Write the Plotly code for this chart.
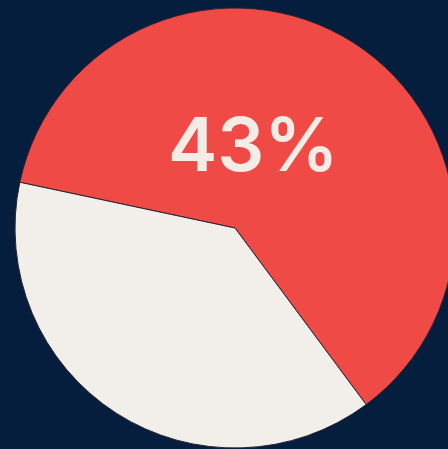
import plotly.graph_objects as go

labels = ["Red share", "Other"]
values = [61.5, 38.5]
colors = ["#EF4A45", "#F2EEEA"]
label_text = "43%"

W, H = 460, 449
bg = "#051E3E"

fig = go.Figure(go.Pie(
    labels=labels,
    values=values,
    sort=False,
    direction="clockwise",
    rotation=282,
    marker=dict(colors=colors, line=dict(color="#2a2230", width=1)),
    textinfo="none",
    hoverinfo="label+percent",
    showlegend=False,
    domain=dict(x=[15 / W, 455 / W], y=[1 / H, 441 / H]),
))

fig.add_annotation(
    text=label_text,
    x=253 / W, y=1 - 144 / H, xref="paper", yref="paper",
    showarrow=False,
    font=dict(family="Inter", size=74, color="#F6ECE6", weight=600),
    xanchor="center", yanchor="middle",
)

fig.update_layout(
    width=W, height=H,
    margin=dict(l=0, r=0, t=0, b=0),
    paper_bgcolor=bg, plot_bgcolor=bg,
)

fig.write_html(
    "out.html",
    config={"displayModeBar": False},
    post_script="document.body.style.margin='0';document.body.style.overflow='hidden';document.documentElement.style.overflow='hidden';document.body.style.background='" + bg + "';",
)
